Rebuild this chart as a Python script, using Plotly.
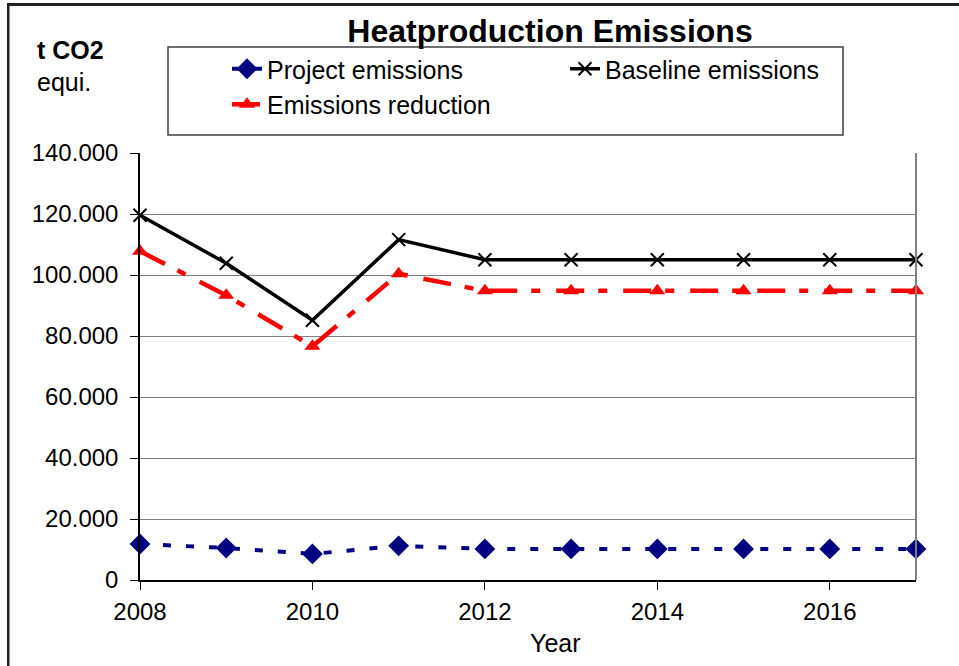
import plotly.graph_objects as go

years = [2008, 2009, 2010, 2011, 2012, 2013, 2014, 2015, 2016, 2017]
project = [11800, 10500, 8550, 11200, 10200, 10200, 10200, 10200, 10200, 10200]
baseline = [119600, 103850, 85150, 111600, 105000, 105000, 105000, 105000, 105000, 105000]
reduction = [107800, 93350, 76600, 100400, 94800, 94800, 94800, 94800, 94800, 94800]
y_ticks = [0, 20000, 40000, 60000, 80000, 100000, 120000, 140000]
x_ticks = [2008, 2010, 2012, 2014, 2016]

FONT = "Liberation Sans, Arial, sans-serif"
L, R, T, B = 140, 916, 153, 580
PW, PH = R - L, B - T


def px(x):
    return (x - L) / PW


def py(y):
    return (B - y) / PH


fig = go.Figure()
fig.add_trace(go.Scatter(
    x=years, y=project, name="Project emissions", mode="lines+markers",
    line=dict(color="#000080", width=4, dash="8px,15px"),
    marker=dict(symbol="diamond", size=16, color="#000080"),
    cliponaxis=False))
fig.add_trace(go.Scatter(
    x=years, y=baseline, name="Baseline emissions", mode="lines+markers",
    line=dict(color="black", width=3.5),
    marker=dict(symbol="x-thin", size=13, color="black",
                line=dict(color="black", width=2)),
    cliponaxis=False))
fig.add_trace(go.Scatter(
    x=years, y=reduction, name="Emissions reduction", mode="lines+markers",
    line=dict(color="#FF0000", width=4.5, dash="28px,14px,9px,16px"),
    marker=dict(symbol="triangle-up", size=14, color="#FF0000"),
    cliponaxis=False))

fig.update_layout(
    width=959, height=666,
    margin=dict(l=L, r=959 - R, t=T, b=666 - B),
    paper_bgcolor="white", plot_bgcolor="white",
    separators=",.",
    font=dict(family=FONT, size=24, color="black"),
    title=dict(text="<b>Heatproduction Emissions</b>", x=550 / 959, xref="container",
               xanchor="center", y=1 - 31 / 666, yref="container", yanchor="middle",
               font=dict(family=FONT, size=32, color="black")),
    showlegend=True,
    legend=dict(orientation="h", x=px(227), y=py(46),
                xanchor="left", yanchor="top",
                entrywidth=293, entrywidthmode="pixels",
                bgcolor="rgba(0,0,0,0)", borderwidth=0,
                font=dict(family=FONT, size=25, color="black"),
                traceorder="normal"),
    xaxis=dict(range=[2008, 2017], tickvals=x_ticks, ticktext=[str(v) for v in x_ticks],
               showgrid=False, zeroline=False, showline=True, linecolor="black",
               linewidth=1.5, ticks="outside", ticklen=8, tickcolor="black",
               tickwidth=1, ticklabelstandoff=1,
               tickfont=dict(family=FONT, size=24, color="black")),
    yaxis=dict(range=[0, 140000], tickvals=y_ticks, tickformat=",d",
               showgrid=True, gridcolor="#808080", gridwidth=1.2,
               zeroline=False, showline=True, linecolor="black", linewidth=1.5,
               ticks="outside", ticklen=8, tickcolor="black", tickwidth=1,
               ticklabelstandoff=7,
               tickfont=dict(family=FONT, size=24, color="black")),
)

# legend frame
fig.add_shape(type="rect", xref="paper", yref="paper",
              x0=px(168), x1=px(843), y0=py(135), y1=py(47),
              line=dict(color="#404040", width=1.5), fillcolor="rgba(0,0,0,0)", layer="below")
# right plot-area border (grey)
fig.add_shape(type="line", xref="paper", yref="paper", x0=1, x1=1, y0=0, y1=1,
              line=dict(color="#808080", width=2))
# outer chart frame: left edge
fig.add_shape(type="rect", xref="paper", yref="paper",
              x0=px(7), x1=px(9.5), y0=py(666), y1=py(3),
              line=dict(width=0), fillcolor="#222222", layer="above")

fig.add_annotation(text="<b>t CO2</b>", xref="paper", yref="paper",
                   x=px(35), y=py(50), xanchor="left", yanchor="middle",
                   showarrow=False, font=dict(family=FONT, size=25, color="black"))
fig.add_annotation(text="equi.", xref="paper", yref="paper",
                   x=px(35), y=py(82), xanchor="left", yanchor="middle",
                   showarrow=False, font=dict(family=FONT, size=25, color="black"))
fig.add_annotation(text="Year", xref="paper", yref="paper",
                   x=px(555), y=py(643), xanchor="center", yanchor="middle",
                   showarrow=False, font=dict(family=FONT, size=25, color="black"))

post = (
    "document.body.style.margin='0';"
    "var fr=document.createElement('div');"
    "fr.style.cssText='position:absolute;left:7px;top:3px;width:952px;height:3px;"
    "background:#222222;z-index:1000;pointer-events:none;';"
    "document.body.appendChild(fr);"
)
fig.write_html("out.html", config={"displayModeBar": False}, post_script=post)
